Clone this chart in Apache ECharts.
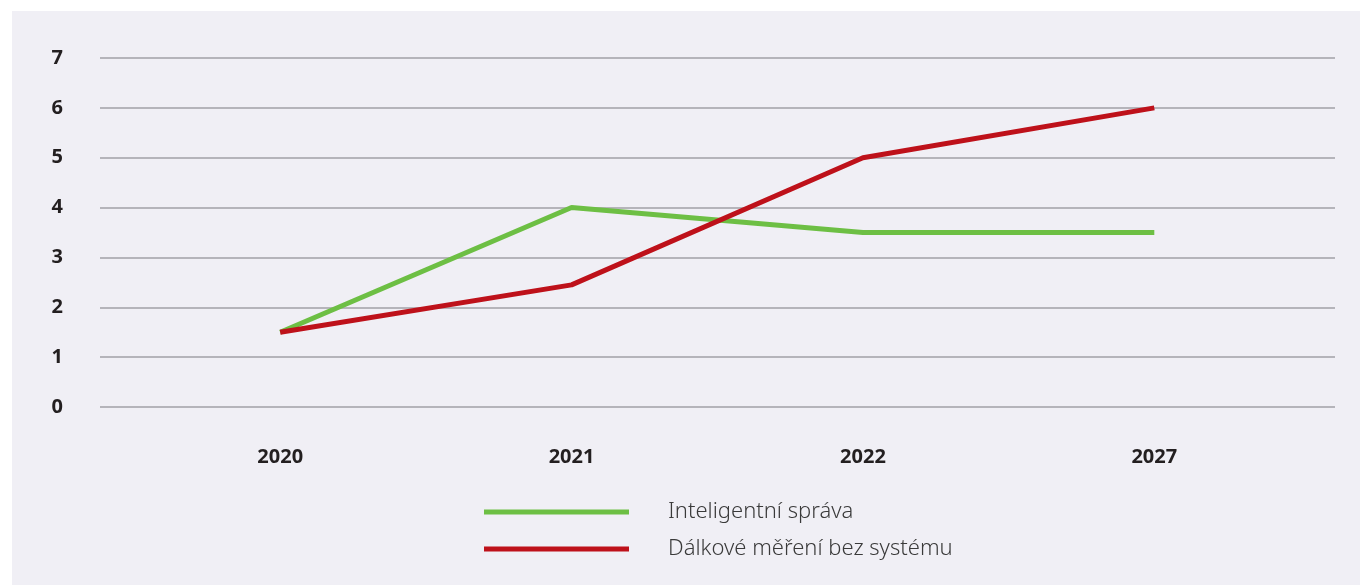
<!DOCTYPE html>
<html>
<head>
<meta charset="utf-8">
<script src="https://cdn.jsdelivr.net/npm/echarts@6/dist/echarts.min.js"></script>
<style>
  html, body { margin: 0; padding: 0; background: #ffffff; }
  #panel { position: absolute; left: 12px; top: 11px; width: 1348px; height: 574px; background: #f0eff5; }
  #chart { width: 1348px; height: 574px; }
</style>
</head>
<body>
<div id="panel"><div id="chart"></div></div>
<script>
const categories = ['2020', '2021', '2022', '2027'];
const seriesNames = ['Inteligentní správa', 'Dálkové měření bez systému'];
const greenValues = [1.5, 4, 3.5, 3.5];
const redValues = [1.5, 2.45, 5, 6];
const yTicks = { min: 0, max: 7, interval: 1 };

const chart = echarts.init(document.getElementById('chart'), null, { renderer: 'canvas' });
const font = '"Noto Sans", "Open Sans", sans-serif';

chart.setOption({
  animation: false,
  backgroundColor: 'transparent',
  grid: [
    { left: 88, right: 25, top: 47, bottom: 178 },
    { left: 122.5, right: 60, top: 47, bottom: 178 }
  ],
  xAxis: [
    { gridIndex: 0, type: 'value', min: 0, max: 1, show: false },
    {
      gridIndex: 1, type: 'category', data: categories, boundaryGap: true,
      axisLine: { show: false }, axisTick: { show: false },
      axisLabel: { margin: 40, fontFamily: font, fontSize: 20, fontWeight: 'bold', color: '#231f20' }
    }
  ],
  yAxis: [
    {
      gridIndex: 0, type: 'value', min: yTicks.min, max: yTicks.max, interval: yTicks.interval,
      axisLine: { show: false }, axisTick: { show: false },
      axisLabel: { margin: 37, fontFamily: font, fontSize: 20, fontWeight: 'bold', color: '#231f20', padding: [4, 0, 0, 0] },
      splitLine: { show: true, lineStyle: { color: '#a2a1a6', width: 1.5 } }
    },
    {
      gridIndex: 1, type: 'value', min: yTicks.min, max: yTicks.max, interval: yTicks.interval,
      show: false, splitLine: { show: false }
    }
  ],
  legend: {
    orient: 'vertical',
    left: 467,
    top: 484,
    itemWidth: 145,
    itemHeight: 5,
    itemGap: 13,
    icon: 'rect',
    data: seriesNames,
    textStyle: {
      fontFamily: font, fontSize: 22, color: '#3a3a3a', fontWeight: 300,
      lineHeight: 24, padding: [0, 0, 0, 34]
    }
  },
  series: [
    {
      name: seriesNames[0], type: 'line', xAxisIndex: 1, yAxisIndex: 1,
      data: greenValues, showSymbol: false, symbol: 'none',
      lineStyle: { color: '#6dbf44', width: 5 }, itemStyle: { color: '#6dbf44' }
    },
    {
      name: seriesNames[1], type: 'line', xAxisIndex: 1, yAxisIndex: 1,
      data: redValues, showSymbol: false, symbol: 'none',
      lineStyle: { color: '#be111a', width: 5 }, itemStyle: { color: '#be111a' }
    }
  ]
});
</script>
</body>
</html>
